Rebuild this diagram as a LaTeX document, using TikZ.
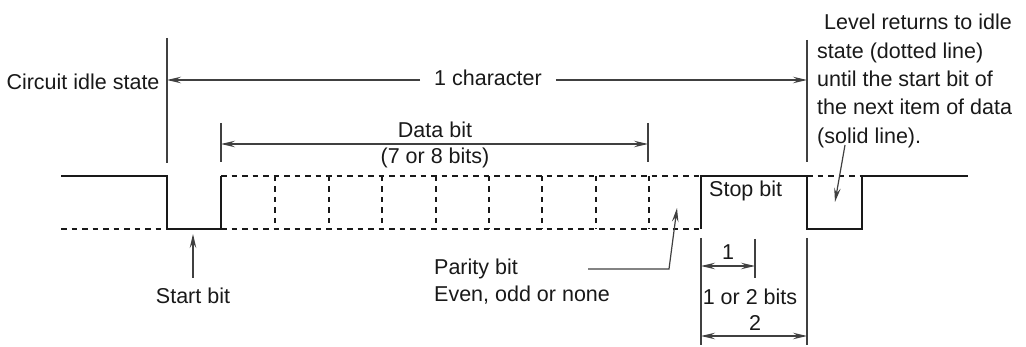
\documentclass[tikz,border=0pt]{standalone}
\usepackage{fontspec}
\setmainfont{Liberation Sans}
\usetikzlibrary{arrows.meta}
\begin{document}
\begin{tikzpicture}[x=1pt,y=-1pt,
  lbl/.style={font=\fontsize{21.5}{25}\selectfont, inner sep=0pt, text=black!90},
  wave/.style={line width=2pt, line join=miter, black!90},
  dwave/.style={line width=2pt, dash pattern=on 5.5pt off 5pt, black!90},
  guide/.style={line width=1.2pt, black!75},
  tip/.tip={Stealth[length=14pt,width=6.5pt,inset=5pt]},
  arr/.style={guide, -tip},
  darr/.style={guide, tip-tip},
]
\useasboundingbox (0,0) rectangle (1026,347);

% ---- coordinates of the waveform
\coordinate (w0) at (61,176);
\coordinate (s0h) at (167,176); \coordinate (s0l) at (167,229);
\coordinate (s1h) at (221,176); \coordinate (s1l) at (221,229);
\coordinate (pl) at (61,229);
\coordinate (ph) at (701,176); \coordinate (pll) at (701,229);
\coordinate (e0h) at (807,176); \coordinate (e0l) at (807,229);
\coordinate (e1h) at (862,176); \coordinate (e1l) at (862,229);
\coordinate (wend) at (968,176);

% solid parts
\draw[wave] (w0) -- (s0h) -- (s0l) -- (s1l) -- (s1h);
\draw[wave] (pll) -- (ph) -- (e0h) -- (e0l) -- (e1l) -- (e1h) -- (wend);
% dashed parts
\draw[dwave] (pl) -- (s0l);
\draw[dwave] (s1h) -- (ph);
\draw[dwave] (s1l) -- (pll);
\draw[dwave] (e0h) -- (e1h);
\foreach \xx in {274.5,328.5,381.5,435.5,488.5,541.5,595.5,648.5}{
  \draw[dwave] (\xx,176) -- (\xx,229);
}

% ---- guide lines
\coordinate (g1t) at (167,38);  \coordinate (g1b) at (167,163);
\coordinate (g2t) at (221,123); \coordinate (g2b) at (221,162);
\coordinate (g3t) at (648,123); \coordinate (g3b) at (648,162);
\coordinate (g4t) at (807,40);  \coordinate (g4b) at (807,162);
\coordinate (g5t) at (807,238); \coordinate (g5b) at (807,345);
\coordinate (g6t) at (701,238); \coordinate (g6b) at (701,345);
\coordinate (g7t) at (755,239); \coordinate (g7b) at (755,278);
\foreach \a/\b in {g1t/g1b,g2t/g2b,g3t/g3b,g4t/g4b,g5t/g5b,g6t/g6b,g7t/g7b}
  \draw[guide] (\a) -- (\b);

% ---- labels
\node[lbl, anchor=base] (circ) at (83,90) {Circuit idle state};
\node[lbl, anchor=base, inner xsep=14pt] (onechar) at (488,86) {1 character};
\node[lbl, anchor=base] (databit) at (435,137.7) {Data bit};
\node[lbl, anchor=base] (databits) at (435,164) {(7 or 8 bits)};
\node[lbl, anchor=base] (startlbl) at (193,304) {Start bit};
\node[lbl, anchor=base west] (parity) at (434,275) {Parity bit};
\node[lbl, anchor=base west] (even) at (434,301.7) {Even, odd or none};
\node[lbl, anchor=base west] (stop) at (709,196.7) {Stop bit};
\node[lbl, anchor=base] (one) at (728,259.3) {1};
\node[lbl, anchor=base] (onetwo) at (750,304.3) {1 or 2 bits};
\node[lbl, anchor=base] (two) at (755,330.7) {2};
\node[lbl, anchor=base west] (r1) at (824,30) {Level returns to idle};
\node[lbl, anchor=base west] (r2) at (817,58.3) {state (dotted line)};
\node[lbl, anchor=base west] (r3) at (817,86.6) {until the start bit of};
\node[lbl, anchor=base west] (r4) at (817,115) {the next item of data};
\node[lbl, anchor=base west] (r5) at (817,143.3) {(solid line).};

% ---- dimension arrows
\coordinate (c1) at (167,80); \coordinate (c2) at (807,80);
\draw[arr] (onechar.west |- c1) -- (c1);
\draw[arr] (onechar.east |- c2) -- (c2);
\coordinate (d1) at (221,144); \coordinate (d2) at (648,144);
\draw[darr] (d1) -- (d2);
\coordinate (o1) at (701,266); \coordinate (o2) at (755,266);
\draw[darr] (o1) -- (o2);
\coordinate (t1) at (701,336); \coordinate (t2) at (807,336);
\draw[darr] (t1) -- (t2);

% ---- pointers
\coordinate (sb1) at (193,278); \coordinate (sb2) at (193,234);
\draw[arr] (sb1) -- (sb2);
\coordinate (pa1) at (588,269); \coordinate (pa2) at (669,269); \coordinate (pa3) at (677,208);
\draw[arr] (pa1) -- (pa2) -- (pa3);
\coordinate (rt1) at (845,145); \coordinate (rt2) at (835,202);
\draw[arr] (rt1) -- (rt2);
\end{tikzpicture}
\end{document}
